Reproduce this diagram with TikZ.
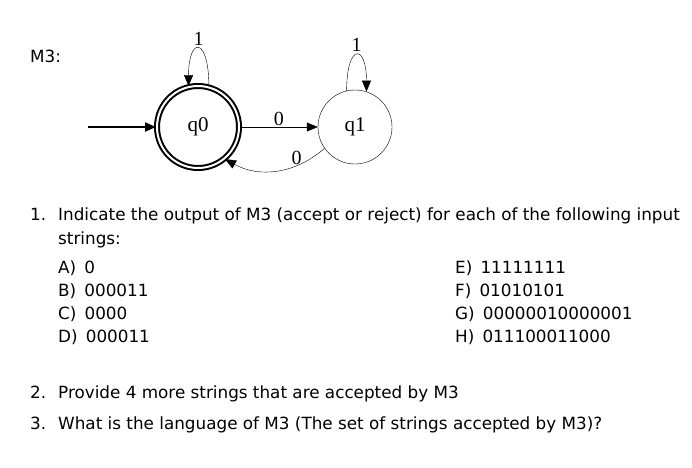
\documentclass[tikz,border=0pt]{standalone}
\usepackage{fontspec}
\setmainfont{DejaVu Sans}
\newfontfamily\serif{Liberation Serif}
\usetikzlibrary{arrows.meta}
\begin{document}
\begin{tikzpicture}[x=1pt,y=-1pt,
  txt/.style={anchor=base west,inner sep=0pt,font=\fontsize{16.8}{19}\selectfont},
  lab/.style={inner sep=1pt,font=\serif\fontsize{20}{22}\selectfont},
  st/.style={circle,draw,minimum size=74pt,inner sep=0pt,font=\serif\fontsize{21}{23}\selectfont},
  ar/.style={-{Triangle[length=11pt,width=9pt]}}]
\useasboundingbox (0,0) rectangle (692,467);
\node[txt] (m3) at (30,62) {M3:};
\node[st,double,line width=2pt,double distance=2pt,minimum size=82pt] (q0) at (198,127) {q0};
\node[st] (q1) at (355,127) {q1};
\coordinate (s) at (88,127);
\draw[ar,line width=2pt] (s) -- (q0);
\draw[ar] (q0) -- node[lab,above] {0} (q1);
\draw[ar] (q1.-145) to[bend left=35] node[lab,above,pos=0.3] {0} (q0.-50);
\draw[ar] (q0.75) .. controls +(0,-50) and +(0,-50) .. (q0.103) node[lab,pos=0.5,above=2pt] {1};
\draw[ar] (q1.103) .. controls +(0,-48) and +(0,-48) .. (q1.72) node[lab,pos=0.5,above=2pt] {1};
\node[txt] (n1) at (30,220) {1.};
\node[txt] (t1) at (58,220) {Indicate the output of M3 (accept or reject) for each of the following input};
\node[txt] (t1b) at (58,244) {strings:};
\node[txt] (a) at (58,273) {A)\, 0};
\node[txt] (b) at (58,296) {B)\, 000011};
\node[txt] (c) at (58,319) {C)\, 0000};
\node[txt] (d) at (58,342) {D)\, 000011};
\node[txt] (e) at (455,273) {E)\, 11111111};
\node[txt] (f) at (455,296) {F)\, 01010101};
\node[txt] (g) at (455,319) {G)\, 00000010000001};
\node[txt] (h) at (455,342) {H)\, 011100011000};
\node[txt] (n2) at (30,398) {2.};
\node[txt] (t2) at (58,398) {Provide 4 more strings that are accepted by M3};
\node[txt] (n3) at (30,429) {3.};
\node[txt] (t3) at (58,429) {What is the language of M3 (The set of strings accepted by M3)?};
\end{tikzpicture}
\end{document}
